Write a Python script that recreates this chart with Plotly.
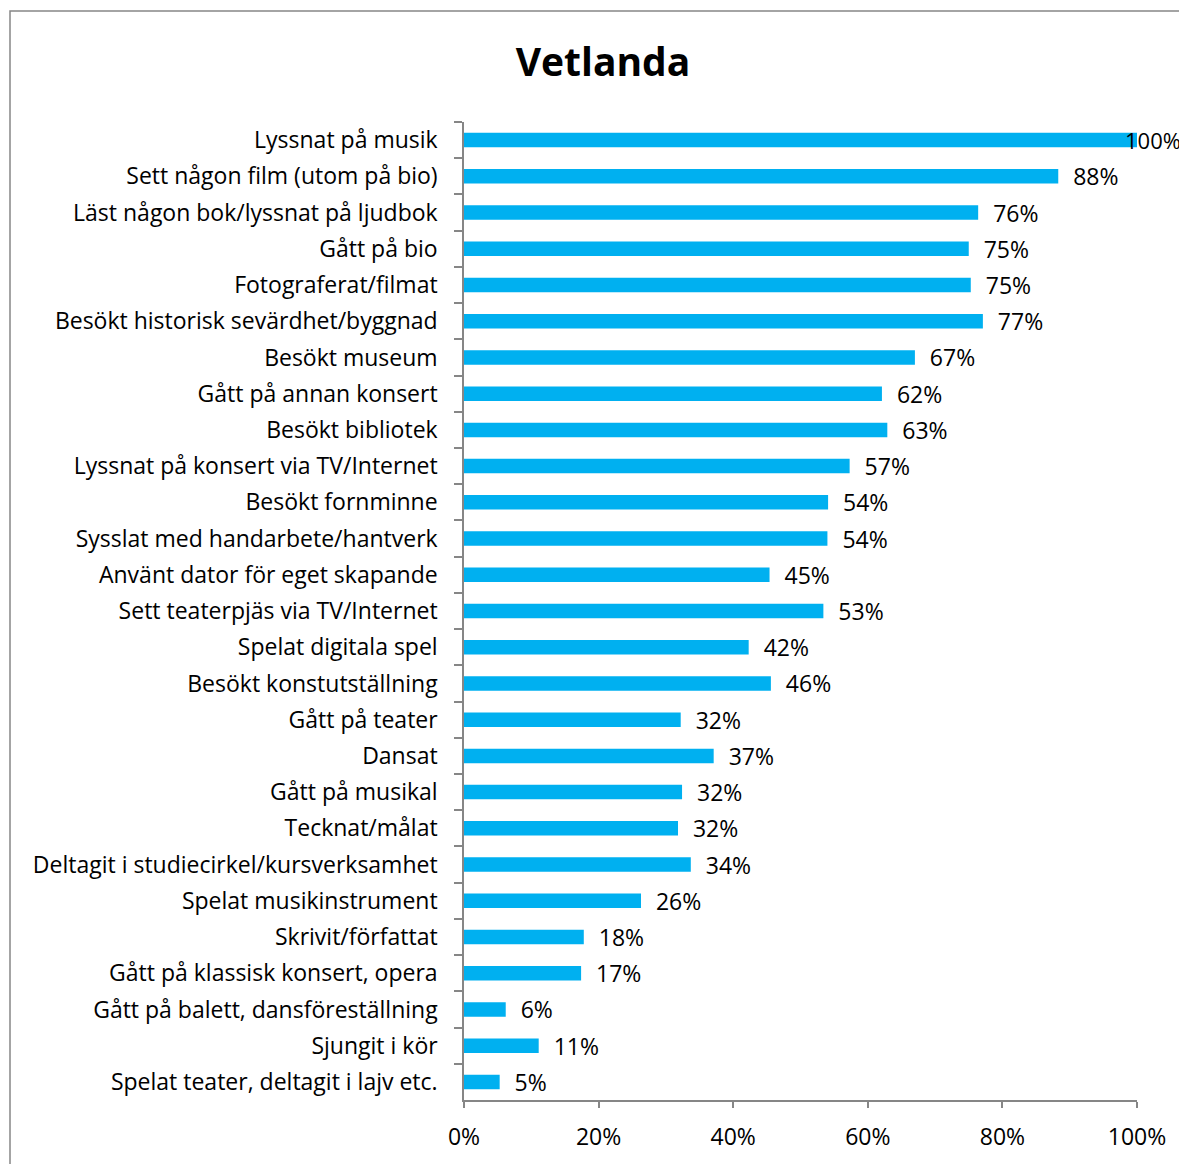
import plotly.graph_objects as go

title = "Vetlanda"
categories = [
    "Lyssnat på musik",
    "Sett någon film (utom på bio)",
    "Läst någon bok/lyssnat på ljudbok",
    "Gått på bio",
    "Fotograferat/filmat",
    "Besökt historisk sevärdhet/byggnad",
    "Besökt museum",
    "Gått på annan konsert",
    "Besökt bibliotek",
    "Lyssnat på konsert via TV/Internet",
    "Besökt fornminne",
    "Sysslat med handarbete/hantverk",
    "Använt dator för eget skapande",
    "Sett teaterpjäs via TV/Internet",
    "Spelat digitala spel",
    "Besökt konstutställning",
    "Gått på teater",
    "Dansat",
    "Gått på musikal",
    "Tecknat/målat",
    "Deltagit i studiecirkel/kursverksamhet",
    "Spelat musikinstrument",
    "Skrivit/författat",
    "Gått på klassisk konsert, opera",
    "Gått på balett, dansföreställning",
    "Sjungit i kör",
    "Spelat teater, deltagit i lajv etc.",
]
values = [100.0, 88.3, 76.4, 75.0, 75.3, 77.1, 67.0, 62.1, 62.9, 57.3, 54.1, 54.0,
          45.4, 53.4, 42.3, 45.6, 32.2, 37.1, 32.4, 31.8, 33.7, 26.3, 17.8, 17.4,
          6.2, 11.1, 5.3]
x_ticks = [0, 20, 40, 60, 80, 100]

FONT = "'Open Sans', sans-serif"
FS = 23
GREY = "#868686"

W, H = 1179, 1156   # page body has an 8px margin
L, T, PW, PH = 456, 114, 673, 986
R = W - L - PW
B = H - T - PH

# labels: bars at full scale get their label via annotation (nudged back over bar end)
labels = [("" if v >= 99.5 else f"  {round(v)}%") for v in values]

fig = go.Figure(go.Bar(
    x=values, y=categories, orientation="h",
    marker=dict(color="#00B0F0", line=dict(width=0)),
    text=labels, textposition="outside", cliponaxis=False, constraintext="none",
    textfont=dict(family=FONT, size=FS, color="black"),
    width=0.4,
))

for v, c in zip(values, categories):
    if v >= 99.5:
        fig.add_annotation(x=v, y=c, xref="x", yref="y", text=f"{round(v)}%",
                           showarrow=False, xanchor="left", xshift=-13, borderpad=0,
                           font=dict(family=FONT, size=FS - 1, color="black"))

fig.update_layout(
    width=W, height=H,
    margin=dict(l=L, r=R, t=T, b=B),
    paper_bgcolor="white", plot_bgcolor="white",
    showlegend=False,
    title=dict(text=f"<b>{title}</b>", x=(603-8)/W, xref="container", xanchor="center",
               y=1-(62-8)/H, yanchor="middle", yref="container",
               font=dict(family=FONT, size=39, color="black")),
    font=dict(family=FONT, size=FS, color="black"),
)

fig.update_xaxes(range=[0, 100], tickvals=x_ticks, ticktext=[f"{t}%" for t in x_ticks],
                 showgrid=False, zeroline=False, showline=True, linecolor=GREY, linewidth=1.5,
                 ticks="outside", ticklen=6, tickcolor=GREY, tickwidth=1.5,
                 ticklabelstandoff=10,
                 tickfont=dict(family=FONT, size=FS, color="black"))
fig.update_yaxes(autorange="reversed", showgrid=False, zeroline=False,
                 showline=True, linecolor=GREY, linewidth=1.5,
                 ticks="outside", ticklen=8, tickcolor=GREY, tickwidth=1.5,
                 tickson="boundaries", ticklabelstandoff=20,
                 tickfont=dict(family=FONT, size=FS, color="black"))

# chart-area border
fig.add_shape(type="rect", xref="paper", yref="paper",
              x0=(10-464)/PW, x1=1.2, y0=-0.2, y1=(T + PH - 2)/PH,
              line=dict(color=GREY, width=1.5), fillcolor="rgba(0,0,0,0)", layer="below")

fig.write_html("out.html")
